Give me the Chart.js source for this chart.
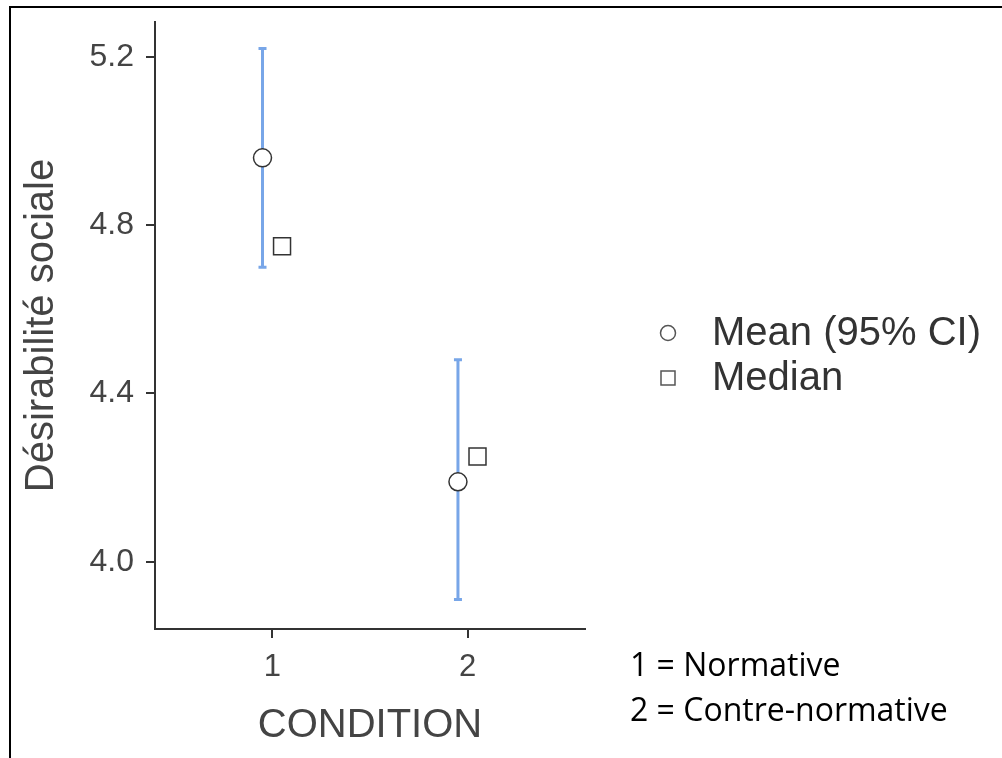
<!DOCTYPE html>
<html>
<head>
<meta charset="utf-8">
<script src="https://cdn.jsdelivr.net/npm/chart.js@4.4.1/dist/chart.umd.min.js"></script>
<style>
  html, body { margin: 0; padding: 0; background: #fff; }
  #grafica { display: block; }
</style>
</head>
<body>
<canvas id="grafica" width="1002" height="758"></canvas>
<script>
// Datos
const condiciones = [1, 2];
const medias = [4.96, 4.19];
const icInferior = [4.70, 3.91];
const icSuperior = [5.22, 4.48];
const medianas = [4.75, 4.25];
const ticksY = [4.0, 4.4, 4.8, 5.2];
const notas = ["1 = Normative", "2 = Contre-normative"];

// desplazamiento media / mediana alrededor de cada condición
const desplaza = 0.05;
const fuente = "'Liberation Sans', Arial, sans-serif";
const gris = '#444';

// 📏 Barras de error (IC 95%)
const barrasError = {
  id: 'barrasError',
  beforeDatasetsDraw(chart) {
    const { ctx, scales: { x, y } } = chart;
    ctx.save();
    ctx.strokeStyle = '#78a6e8';
    ctx.lineWidth = 3;
    condiciones.forEach((c, i) => {
      const px = x.getPixelForValue(c - desplaza);
      const top = y.getPixelForValue(icSuperior[i]);
      const bot = y.getPixelForValue(icInferior[i]);
      ctx.beginPath();
      ctx.moveTo(px, top);
      ctx.lineTo(px, bot);
      ctx.moveTo(px - 4, top);
      ctx.lineTo(px + 4, top);
      ctx.moveTo(px - 4, bot);
      ctx.lineTo(px + 4, bot);
      ctx.stroke();
    });
    ctx.restore();
  }
};

// 🏷️ Leyenda, notas y marco
const extras = {
  id: 'extras',
  afterDraw(chart) {
    const { ctx } = chart;
    ctx.save();

    // marco negro (arriba e izquierda)
    ctx.strokeStyle = '#000';
    ctx.lineWidth = 2;
    ctx.beginPath();
    ctx.moveTo(10, 758);
    ctx.lineTo(10, 7);
    ctx.lineTo(1002, 7);
    ctx.stroke();

    // leyenda
    const filas = [333, 378];
    ctx.font = '40px ' + fuente;
    ctx.textBaseline = 'middle';
    ctx.textAlign = 'left';
    chart.data.datasets.forEach((ds, i) => {
      const cy = filas[i];
      ctx.fillStyle = '#fff';
      ctx.strokeStyle = '#555';
      ctx.lineWidth = 1.5;
      ctx.beginPath();
      if (ds.pointStyle === 'circle') {
        ctx.arc(668, cy, 7.5, 0, Math.PI * 2);
      } else {
        ctx.rect(661, cy - 7, 14, 14);
      }
      ctx.fill();
      ctx.stroke();
      ctx.fillStyle = '#333';
      ctx.fillText(ds.label, 712, cy + 1);
    });

    // notas de condición
    ctx.font = "32px 'Open Sans', sans-serif";
    ctx.fillStyle = '#000';
    notas.forEach((t, i) => {
      ctx.fillText(t, 630, 667 + i * 45);
    });

    ctx.restore();
  }
};

new Chart(document.getElementById('grafica'), {
  type: 'scatter',
  data: {
    datasets: [
      {
        label: 'Mean (95% CI)',
        data: condiciones.map((c, i) => ({ x: c - desplaza, y: medias[i] })),
        pointStyle: 'circle',
        radius: 9,
        backgroundColor: '#fff',
        borderColor: '#333',
        borderWidth: 1.5
      },
      {
        label: 'Median',
        data: condiciones.map((c, i) => ({ x: c + desplaza, y: medianas[i] })),
        pointStyle: 'rect',
        radius: 12,
        backgroundColor: '#fff',
        borderColor: '#333',
        borderWidth: 1.5
      }
    ]
  },
  options: {
    responsive: false,
    animation: false,
    devicePixelRatio: 1,
    layout: { padding: { left: 14, top: 22, right: 417, bottom: 0 } },
    plugins: {
      legend: { display: false },
      tooltip: { enabled: false }
    },
    scales: {
      x: {
        type: 'linear',
        min: 0.4,
        max: 2.6,
        afterBuildTicks: s => { s.ticks = condiciones.map(v => ({ value: v })); },
        afterFit: s => { s.height = 129; s.paddingLeft = 0; s.paddingRight = 0; },
        ticks: {
          color: gris,
          font: { family: fuente, size: 31 },
          padding: 11,
          callback: v => String(v)
        },
        grid: { display: true, drawOnChartArea: false, drawTicks: true, tickLength: 9, color: '#333', lineWidth: 2 },
        border: { display: true, color: '#333', width: 2 },
        title: {
          display: true,
          text: 'CONDITION',
          color: gris,
          font: { family: fuente, size: 40 },
          padding: { top: 0, bottom: 8 }
        }
      },
      y: {
        min: 3.84,
        max: 5.283,
        afterBuildTicks: s => { s.ticks = ticksY.map(v => ({ value: v })); },
        afterFit: s => { s.width = 141; s.paddingTop = 0; s.paddingBottom = 0; },
        ticks: {
          color: gris,
          font: { family: fuente, size: 32 },
          padding: 12,
          callback: v => v.toFixed(1)
        },
        grid: { display: true, drawOnChartArea: false, drawTicks: true, tickLength: 9, color: '#333', lineWidth: 2 },
        border: { display: true, color: '#333', width: 2 },
        title: {
          display: true,
          text: 'Désirabilité sociale',
          color: gris,
          font: { family: fuente, size: 40 },
          padding: { top: 4, bottom: 0 }
        }
      }
    }
  },
  plugins: [barrasError, extras]
});
</script>
</body>
</html>
